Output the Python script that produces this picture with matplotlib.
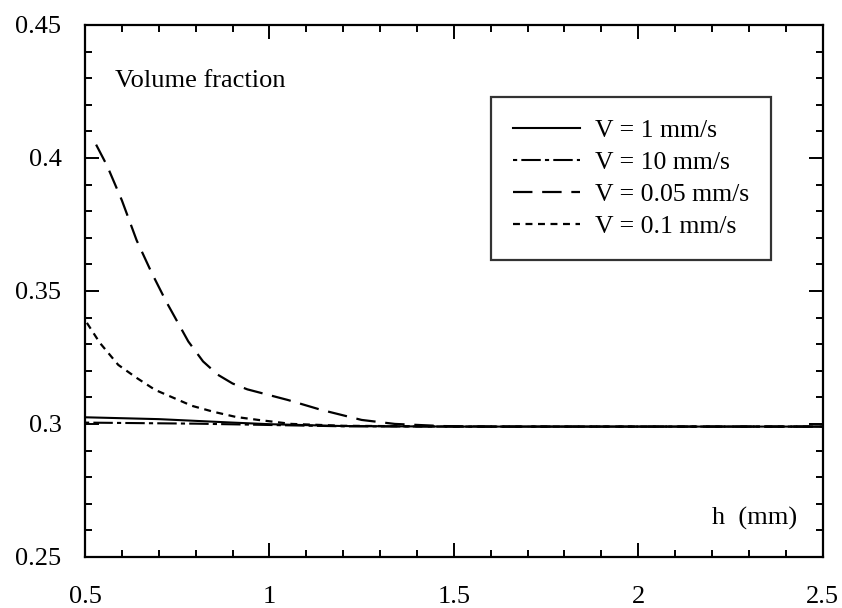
import matplotlib
matplotlib.use('Agg')
import matplotlib.pyplot as plt
from matplotlib.ticker import MultipleLocator, FormatStrFormatter

# 数据
h_1 = [0.5, 0.7, 0.9, 1.0, 1.2, 1.5, 2.5]
v_1 = [0.3025, 0.3018, 0.3005, 0.2999, 0.2992, 0.299, 0.299]

h_10 = [0.5, 0.8, 1.0, 1.2, 1.5, 2.5]
v_10 = [0.3005, 0.3001, 0.2996, 0.2991, 0.299, 0.299]

h_005 = [0.53, 0.56, 0.60, 0.64, 0.68, 0.72, 0.78, 0.82, 0.86, 0.90, 0.94, 1.05, 1.14, 1.25, 1.34, 1.47, 1.6, 2.0, 2.5]
v_005 = [0.405, 0.397, 0.384, 0.369, 0.357, 0.346, 0.331, 0.3235, 0.3185, 0.3152, 0.313, 0.309, 0.3053, 0.3015, 0.300, 0.2992, 0.299, 0.299, 0.299]

h_01 = [0.505, 0.54, 0.59, 0.64, 0.69, 0.74, 0.79, 0.85, 0.91, 0.97, 1.06, 1.2, 1.5, 2.5]
v_01 = [0.338, 0.3305, 0.3222, 0.3173, 0.3128, 0.3098, 0.3068, 0.3045, 0.3026, 0.3015, 0.300, 0.2993, 0.299, 0.299]

labels = ['V = 1 mm/s', 'V = 10 mm/s', 'V = 0.05 mm/s', 'V = 0.1 mm/s']

plt.rcParams['font.family'] = ['Liberation Serif', 'DejaVu Serif']
plt.rcParams['lines.scale_dashes'] = False

fig = plt.figure(figsize=(8.42, 6.08), dpi=100)
ax = fig.add_axes([0.101, 0.084, 0.876, 0.875])

ax.plot(h_1, v_1, color='black', lw=1.5, label=labels[0])
ax.plot(h_10, v_10, color='black', lw=1.5, dashes=(3, 3, 14, 3), label=labels[1])
ax.plot(h_005, v_005, color='black', lw=1.6, dashes=(14, 7), label=labels[2])
ax.plot(h_01, v_01, color='black', lw=1.6, dashes=(5, 4), label=labels[3])

ax.set_xlim(0.5, 2.5)
ax.set_ylim(0.25, 0.45)
ax.xaxis.set_major_locator(MultipleLocator(0.5))
ax.xaxis.set_minor_locator(MultipleLocator(0.1))
ax.yaxis.set_major_locator(MultipleLocator(0.05))
ax.yaxis.set_minor_locator(MultipleLocator(0.01))
ax.xaxis.set_major_formatter(FormatStrFormatter('%g'))
ax.yaxis.set_major_formatter(FormatStrFormatter('%g'))

ax.tick_params(which='both', direction='in', top=True, right=True, width=1.4, labelsize=19)
ax.tick_params(which='major', length=10)
ax.tick_params(which='minor', length=5)
ax.tick_params(axis='x', pad=21)
ax.tick_params(axis='y', pad=17)
for s in ax.spines.values():
    s.set_linewidth(1.6)

ax.text(0.041, 0.895, 'Volume fraction', transform=ax.transAxes, fontsize=19, va='center', ha='left')
ax.text(0.965, 0.073, 'h  (mm)', transform=ax.transAxes, fontsize=19, va='center', ha='right')

leg = ax.legend(loc='upper right', bbox_to_anchor=(0.930, 0.865), borderaxespad=0,
                fontsize=18.5, frameon=True, fancybox=False, edgecolor='black',
                handlelength=2.6, handletextpad=0.6, labelspacing=0.36, borderpad=0.85)
leg.get_frame().set_linewidth(1.6)

plt.savefig('out.png', dpi=100)
